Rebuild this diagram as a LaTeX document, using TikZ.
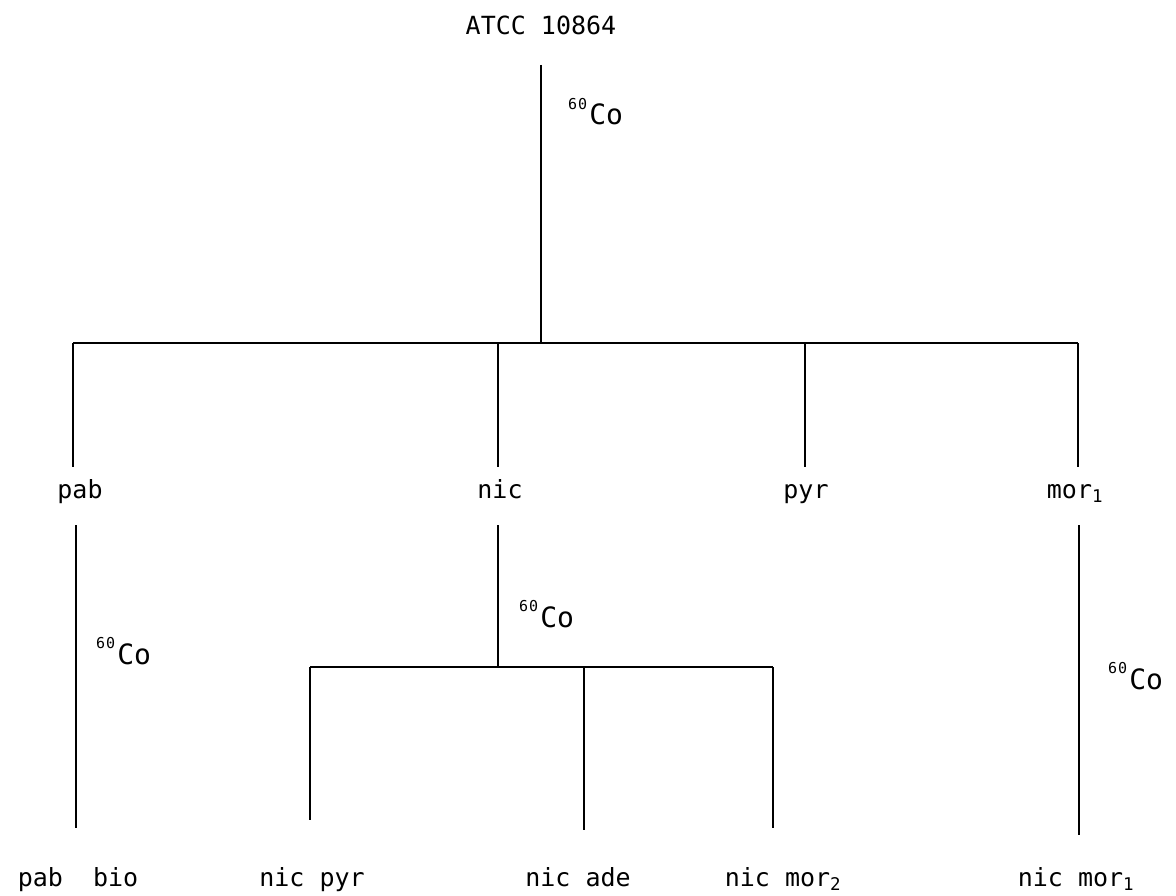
\documentclass[tikz,border=0pt]{standalone}
\usepackage{fontspec}
\setmainfont{DejaVu Sans Mono}
\newcommand{\cosixty}{\raisebox{0.62em}{\fontsize{15}{15}\selectfont 6\kern1pt0}\kern2pt{\fontsize{28}{30}\selectfont Co}}
\begin{document}
\begin{tikzpicture}[x=1pt,y=-1pt,
  lbl/.style={anchor=base,inner sep=0pt,font=\fontsize{25}{28}\selectfont},
  co/.style={anchor=base west,inner sep=0pt,font=\fontsize{25}{28}\selectfont},
  ln/.style={line width=2.6pt,line cap=butt}]
\useasboundingbox (0,0) rectangle (1176,896);
% root
\node[lbl] (root) at (541,35) {ATCC 10864};
\coordinate (rootTop) at (541,65);
\coordinate (j1) at (541,343);
\node[co] (co1) at (568,125) {\cosixty};
% first level bar
\coordinate (b1L) at (73,343);
\coordinate (b1a) at (498,343);
\coordinate (b1b) at (805,343);
\coordinate (b1R) at (1078,343);
\coordinate (e1) at (73,467);
\coordinate (e2) at (498,467);
\coordinate (e3) at (805,467);
\coordinate (e4) at (1078,467);
\node[lbl] (pab) at (80,498) {pab};
\node[lbl] (nic) at (500,498) {nic};
\node[lbl] (pyr) at (806,498) {pyr};
\node[lbl] (mor) at (1075,498) {mor\textsubscript{1}};
% second level
\coordinate (s1) at (76,525);
\coordinate (s2) at (498,525);
\coordinate (s3) at (1079,525);
\coordinate (t1) at (76,828);
\coordinate (j2) at (498,667);
\coordinate (t3) at (1079,835);
\node[co] (co2) at (96,664) {\cosixty};
\node[co] (co3) at (519,627) {\cosixty};
\node[co] (co4) at (1108,689) {\cosixty};
% nic sub-bar
\coordinate (b2L) at (310,667);
\coordinate (b2m) at (584,667);
\coordinate (b2R) at (773,667);
\coordinate (f1) at (310,820);
\coordinate (f2) at (584,830);
\coordinate (f3) at (773,828);
% bottom labels
\node[lbl] (pabbio) at (78,886) {pab\ \ bio};
\node[lbl] (nicpyr) at (312,886) {nic pyr};
\node[lbl] (nicade) at (578,886) {nic ade};
\node[lbl] (nicmor2) at (783,886) {nic mor\textsubscript{2}};
\node[lbl] (nicmor1) at (1076,886) {nic mor\textsubscript{1}};
% lines
\draw[ln] (rootTop) -- (j1);
\draw[ln] (b1L) -- (b1R);
\draw[ln] (b1L) -- (e1);
\draw[ln] (b1a) -- (e2);
\draw[ln] (b1b) -- (e3);
\draw[ln] (b1R) -- (e4);
\draw[ln] (s1) -- (t1);
\draw[ln] (s2) -- (j2);
\draw[ln] (s3) -- (t3);
\draw[ln] (b2L) -- (b2R);
\draw[ln] (b2L) -- (f1);
\draw[ln] (b2m) -- (f2);
\draw[ln] (b2R) -- (f3);
\end{tikzpicture}
\end{document}
